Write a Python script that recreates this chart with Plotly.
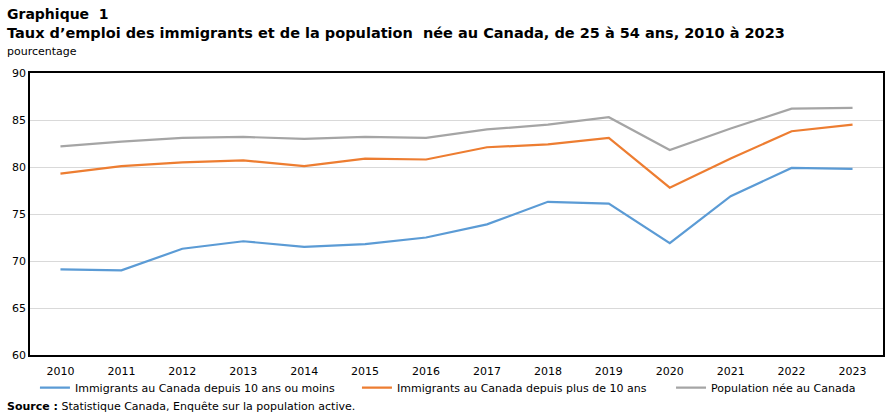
import plotly.graph_objects as go

years = ["2010", "2011", "2012", "2013", "2014", "2015", "2016", "2017", "2018", "2019", "2020", "2021", "2022", "2023"]
recent = [69.1, 69.0, 71.3, 72.1, 71.5, 71.8, 72.5, 73.9, 76.3, 76.1, 71.9, 76.9, 79.9, 79.8]
established = [79.3, 80.1, 80.5, 80.7, 80.1, 80.9, 80.8, 82.1, 82.4, 83.1, 77.8, 80.9, 83.8, 84.5]
canadian_born = [82.2, 82.7, 83.1, 83.2, 83.0, 83.2, 83.1, 84.0, 84.5, 85.3, 81.8, 84.1, 86.2, 86.3]

names = ["Immigrants au Canada depuis 10 ans ou moins",
         "Immigrants au Canada depuis plus de 10 ans",
         "Population née au Canada"]
colors = ["#5b9bd5", "#ed7d31", "#a5a5a5"]
legend_ids = ["legend", "legend2", "legend3"]
legend_x = [0.0058, 0.3833, 0.7515]

FONT = "DejaVu Sans, Verdana, sans-serif"

fig = go.Figure()
for vals, name, c, lid in zip([recent, established, canadian_born], names, colors, legend_ids):
    fig.add_trace(go.Scatter(x=years, y=vals, name=name, mode="lines", legend=lid,
                             line=dict(color=c, width=2.2)))

legend_common = dict(orientation="h", xanchor="left", yref="container", y=0.103, yanchor="top",
                     font=dict(size=11, family=FONT), itemwidth=30, bgcolor="rgba(0,0,0,0)")

fig.update_layout(
    width=894, height=416,
    margin=dict(l=30, r=11, t=73, b=61),
    plot_bgcolor="white", paper_bgcolor="white",
    font=dict(family=FONT, size=11, color="#000000"),
    showlegend=True,
    legend=dict(x=legend_x[0], **legend_common),
    legend2=dict(x=legend_x[1], **legend_common),
    legend3=dict(x=legend_x[2], **legend_common),
)
fig.update_xaxes(type="category", range=[-0.5, 13.5], showline=True, linecolor="black",
                 linewidth=1.5, mirror=True, showgrid=False, ticks="outside", tickcolor="white",
                 ticklen=5, tickfont=dict(size=11), automargin=False)
fig.update_yaxes(range=[60, 90], dtick=5, showline=True, linecolor="black", linewidth=1.5, mirror=True,
                 showgrid=True, gridcolor="#d9d9d9", gridwidth=1, ticks="", zeroline=False,
                 tickfont=dict(size=11), automargin=False)

fig.add_annotation(text="<b>Graphique  1</b>", xref="paper", yref="paper", x=0, xshift=-25,
                   y=1, yshift=59, xanchor="left", yanchor="middle", showarrow=False,
                   font=dict(size=14, family=FONT))
fig.add_annotation(text="<b>Taux d’emploi des immigrants et de la population  née au Canada, de 25 à 54 ans, 2010 à 2023</b>",
                   xref="paper", yref="paper", x=0, xshift=-25, y=1, yshift=40,
                   xanchor="left", yanchor="middle", showarrow=False,
                   font=dict(size=14.5, family=FONT))
fig.add_annotation(text="pourcentage", xref="paper", yref="paper", x=0, xshift=-25,
                   y=1, yshift=22, xanchor="left", yanchor="middle", showarrow=False,
                   font=dict(size=11, family=FONT))
fig.add_annotation(text="<b>Source :</b> Statistique Canada, Enquête sur la population active.",
                   xref="paper", yref="paper", x=0, xshift=-25, y=0, yshift=-51,
                   xanchor="left", yanchor="middle", showarrow=False,
                   font=dict(size=11, family=FONT))

fig.write_html("out.html")
